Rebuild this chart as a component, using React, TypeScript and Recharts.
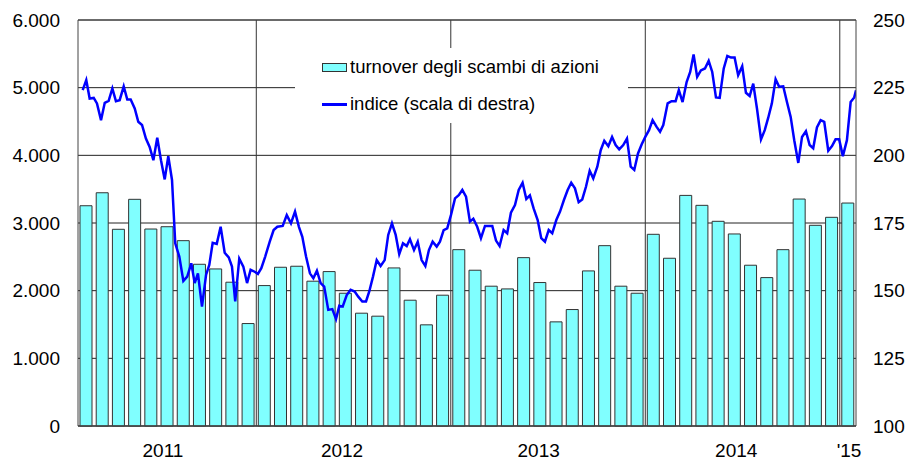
import React from 'react';
import {
  ComposedChart,
  Bar,
  Line,
  XAxis,
  YAxis,
  CartesianGrid,
  ReferenceLine,
  Legend,
} from 'recharts';

// Monthly categories (Feb 2011 - Jan 2015)
const months = [
  'feb-11', 'mar-11', 'apr-11', 'mag-11', 'giu-11', 'lug-11', 'ago-11', 'set-11', 'ott-11', 'nov-11', 'dic-11',
  'gen-12', 'feb-12', 'mar-12', 'apr-12', 'mag-12', 'giu-12', 'lug-12', 'ago-12', 'set-12', 'ott-12', 'nov-12', 'dic-12',
  'gen-13', 'feb-13', 'mar-13', 'apr-13', 'mag-13', 'giu-13', 'lug-13', 'ago-13', 'set-13', 'ott-13', 'nov-13', 'dic-13',
  'gen-14', 'feb-14', 'mar-14', 'apr-14', 'mag-14', 'giu-14', 'lug-14', 'ago-14', 'set-14', 'ott-14', 'nov-14', 'dic-14',
  'gen-15',
];

// Turnover (left scale)
const turnover = [
  3255, 3447, 2907, 3350, 2911, 2945, 2739, 2390, 2321, 2125, 1514,
  2075, 2346, 2361, 2140, 2282, 1962, 1667, 1623, 2336, 1859, 1495, 1933,
  2606, 2302, 2066, 2026, 2488, 2120, 1539, 1721, 2292, 2665, 2066, 1962,
  2833, 2479, 3408, 3261, 3025, 2838, 2376, 2193, 2606, 3354, 2966, 3084,
  3295,
];

// Weekly index: time position in months from start of Feb 2011
const indexTime = [
  0.29, 0.51, 0.72, 0.97, 1.17, 1.42, 1.65, 1.89, 2.12, 2.34, 2.57, 2.82, 3.04, 3.25, 3.5, 3.72, 3.95, 4.19, 4.42, 4.65,
  4.89, 5.12, 5.35, 5.57, 5.8, 6.0, 6.25, 6.5, 6.74, 6.99, 7.2, 7.4, 7.65, 7.9, 8.1, 8.31, 8.56, 8.8, 9.05, 9.3,
  9.5, 9.7, 9.95, 10.2, 10.43, 10.65, 10.9, 11.1, 11.31, 11.55, 11.83, 12.07, 12.3, 12.63, 12.88, 13.14, 13.39, 13.63, 13.84, 14.07,
  14.31, 14.52, 14.74, 14.97, 15.19, 15.44, 15.69, 15.92, 16.12, 16.33, 16.58, 16.82, 17.07, 17.29, 17.54, 17.77, 17.97, 18.2, 18.43, 18.67,
  18.92, 19.14, 19.37, 19.6, 19.82, 20.05, 20.28, 20.48, 20.73, 20.96, 21.2, 21.43, 21.65, 21.88, 22.13, 22.33, 22.56, 22.78, 23.01, 23.26,
  23.49, 23.71, 23.94, 24.18, 24.39, 24.63, 24.86, 25.11, 25.33, 25.56, 25.79, 26.01, 26.26, 26.48, 26.71, 26.96, 27.19, 27.43, 27.66, 27.88,
  28.11, 28.36, 28.58, 28.81, 29.04, 29.26, 29.51, 29.74, 29.98, 30.21, 30.43, 30.66, 30.89, 31.11, 31.34, 31.57, 31.79, 32.04, 32.25, 32.47,
  32.72, 32.95, 33.17, 33.39, 33.64, 33.87, 34.1, 34.32, 34.55, 34.78, 35.0, 35.23, 35.45, 35.7, 35.91, 36.11, 36.38, 36.62, 36.87, 37.07,
  37.3, 37.55, 37.77, 37.98, 38.2, 38.43, 38.68, 38.91, 39.13, 39.36, 39.59, 39.84, 40.06, 40.29, 40.51, 40.73, 40.98, 41.21, 41.44, 41.66,
  41.89, 42.14, 42.37, 42.59, 42.81, 43.04, 43.26, 43.51, 43.74, 43.97, 44.19, 44.44, 44.67, 44.91, 45.14, 45.36, 45.59, 45.82, 46.04, 46.29,
  46.52, 46.74, 46.96, 47.19, 47.44, 47.67, 47.89, 48.0,
];

const indexValue = [
  224.1, 227.8, 221.0, 221.2, 219.2, 213.0, 219.4, 220.1, 224.7, 220.0, 220.4, 225.5, 220.6, 220.6, 217.3, 212.4, 211.2, 206.2, 203.1, 198.2,
  206.5, 198.2, 191.1, 199.7, 190.9, 167.5, 162.6, 153.6, 155.2, 160.1, 152.8, 156.4, 144.1, 155.8, 159.5, 167.7, 167.3, 173.6, 164.0, 162.3,
  158.9, 146.0, 161.8, 158.9, 152.8, 157.7, 157.0, 156.2, 158.3, 162.6, 168.1, 172.4, 173.6, 173.9, 177.9, 174.9, 179.2, 173.6, 169.9, 162.6,
  156.4, 154.6, 157.4, 152.8, 151.5, 142.9, 143.2, 139.5, 144.4, 144.1, 148.4, 150.3, 149.7, 147.8, 146.0, 146.0, 149.7, 155.2, 161.3, 159.1,
  161.3, 170.6, 174.9, 170.6, 163.5, 167.5, 166.5, 169.0, 165.0, 168.1, 161.3, 159.1, 165.0, 168.1, 166.3, 168.1, 172.4, 173.0, 177.9, 184.1,
  185.3, 187.2, 184.7, 175.5, 176.6, 173.6, 169.4, 173.9, 173.9, 173.9, 168.5, 166.5, 172.4, 171.2, 178.8, 181.6, 187.2, 189.9, 183.9, 185.2,
  180.4, 176.1, 169.4, 168.1, 172.4, 171.2, 176.1, 179.2, 183.5, 187.2, 189.9, 187.8, 182.7, 183.7, 188.4, 194.3, 191.5, 195.8, 201.9, 205.4,
  203.4, 206.8, 203.8, 202.2, 203.8, 206.2, 195.8, 194.6, 200.7, 204.1, 206.8, 209.3, 213.0, 210.5, 208.7, 211.2, 219.2, 220.0, 220.0, 224.1,
  219.7, 227.1, 230.8, 237.3, 229.0, 231.4, 232.1, 234.9, 230.8, 221.4, 221.2, 232.1, 236.7, 236.1, 236.1, 229.6, 232.9, 223.1, 221.9, 226.5,
  217.3, 205.9, 209.3, 214.0, 219.2, 228.1, 225.3, 225.5, 219.7, 214.2, 205.6, 197.2, 206.8, 208.9, 203.8, 202.6, 210.3, 213.0, 212.4, 201.7,
  203.4, 205.9, 205.9, 199.7, 205.6, 219.7, 221.4, 224.0,
];

const leftTicks = [0, 1000, 2000, 3000, 4000, 5000, 6000];
const rightTicks = [100, 125, 150, 175, 200, 225, 250];
const yearTickPos = [5.24, 16.29, 28.42, 40.61, 47.57];
const yearTickLabels = ['2011', '2012', '2013', '2014', "'15"];
const yearBoundaries = [11, 23, 35, 47];

const barName = 'turnover degli scambi di azioni';
const lineName = 'indice (scala di destra)';

const barData = months.map((m, i) => ({ month: m, turnover: turnover[i] }));
const lineData = indexTime.map((t, i) => ({ t, indice: indexValue[i] }));

const FONT = '"Liberation Sans", Arial, Helvetica, sans-serif';

const fmtThousands = (v: number) => {
  if (v === 0) return '0';
  const th = Math.floor(v / 1000);
  const rest = String(v % 1000).padStart(3, '0');
  return `${th}.${rest}`;
};

const renderLegend = () => (
  <div
    style={{
      position: 'relative',
      width: 333,
      height: 75,
      background: '#fff',
      fontFamily: FONT,
      fontSize: 18.5,
      color: '#000',
    }}
  >
    <div
      style={{
        position: 'absolute',
        left: 27,
        top: 15,
        width: 25,
        height: 9,
        background: '#80ffff',
        border: '1px solid #333',
        boxSizing: 'border-box',
      }}
    />
    <div style={{ position: 'absolute', left: 55, top: 9.5, lineHeight: '18.5px', whiteSpace: 'nowrap' }}>
      {barName}
    </div>
    <div
      style={{
        position: 'absolute',
        left: 27,
        top: 55,
        width: 25,
        height: 2.5,
        background: '#0000ff',
      }}
    />
    <div style={{ position: 'absolute', left: 55, top: 47, lineHeight: '18.5px', whiteSpace: 'nowrap' }}>
      {lineName}
    </div>
  </div>
);

const tickStyle = { fill: '#000', fontSize: 19, fontFamily: FONT };

export default function App() {
  return (
    <div style={{ width: 909, height: 463 }}>
      <style>{'body{margin:0;}'}</style>
      <ComposedChart
        width={909}
        height={463}
        data={barData}
        margin={{ top: 20, right: 0, bottom: 0, left: 0 }}
        style={{ fontFamily: FONT }}
      >
        <CartesianGrid xAxisId="cat" yAxisId="left" vertical={false} stroke="#222" strokeWidth={1} />
        <XAxis
          xAxisId="num"
          type="number"
          dataKey="t"
          domain={[0, 48]}
          allowDataOverflow
          ticks={yearTickPos}
          interval={0}
          tickFormatter={(_v: number, i: number) => yearTickLabels[i]}
          height={37}
          tickLine={false}
          tickSize={0}
          tickMargin={18}
          axisLine={{ stroke: '#444' }}
          tick={tickStyle}
        />
        <XAxis xAxisId="cat" dataKey="month" hide height={0} />
        <YAxis
          yAxisId="left"
          domain={[0, 6000]}
          ticks={leftTicks}
          interval={0}
          width={78}
          tickFormatter={fmtThousands}
          tickLine={false}
          tickSize={0}
          tickMargin={18}
          axisLine={{ stroke: '#444' }}
          tick={tickStyle}
        />
        <YAxis
          yAxisId="right"
          orientation="right"
          domain={[100, 250]}
          ticks={rightTicks}
          interval={0}
          width={53}
          tickLine={false}
          tickSize={0}
          tickMargin={17}
          axisLine={{ stroke: '#444' }}
          tick={tickStyle}
        />
        <Bar
          xAxisId="cat"
          yAxisId="left"
          dataKey="turnover"
          name={barName}
          fill="#80ffff"
          stroke="#333"
          strokeWidth={1}
          barSize={12}
          isAnimationActive={false}
        />
        {yearBoundaries.map((b) => (
          <ReferenceLine key={b} xAxisId="num" yAxisId="left" x={b} stroke="#333" strokeWidth={1} />
        ))}
        <ReferenceLine xAxisId="num" yAxisId="left" y={6000} stroke="#444" strokeWidth={1} />
        <ReferenceLine xAxisId="num" yAxisId="left" y={0} stroke="#444" strokeWidth={1} />
        <Line
          xAxisId="num"
          yAxisId="right"
          data={lineData}
          dataKey="indice"
          name={lineName}
          type="linear"
          stroke="#0000ff"
          strokeWidth={2.5}
          dot={false}
          activeDot={false}
          isAnimationActive={false}
        />
        <Legend
          layout="vertical"
          align="center"
          verticalAlign="middle"
          content={renderLegend}
          wrapperStyle={{ position: 'absolute', left: 295, top: 48, width: 333, height: 75, background: '#fff' }}
        />
      </ComposedChart>
    </div>
  );
}
